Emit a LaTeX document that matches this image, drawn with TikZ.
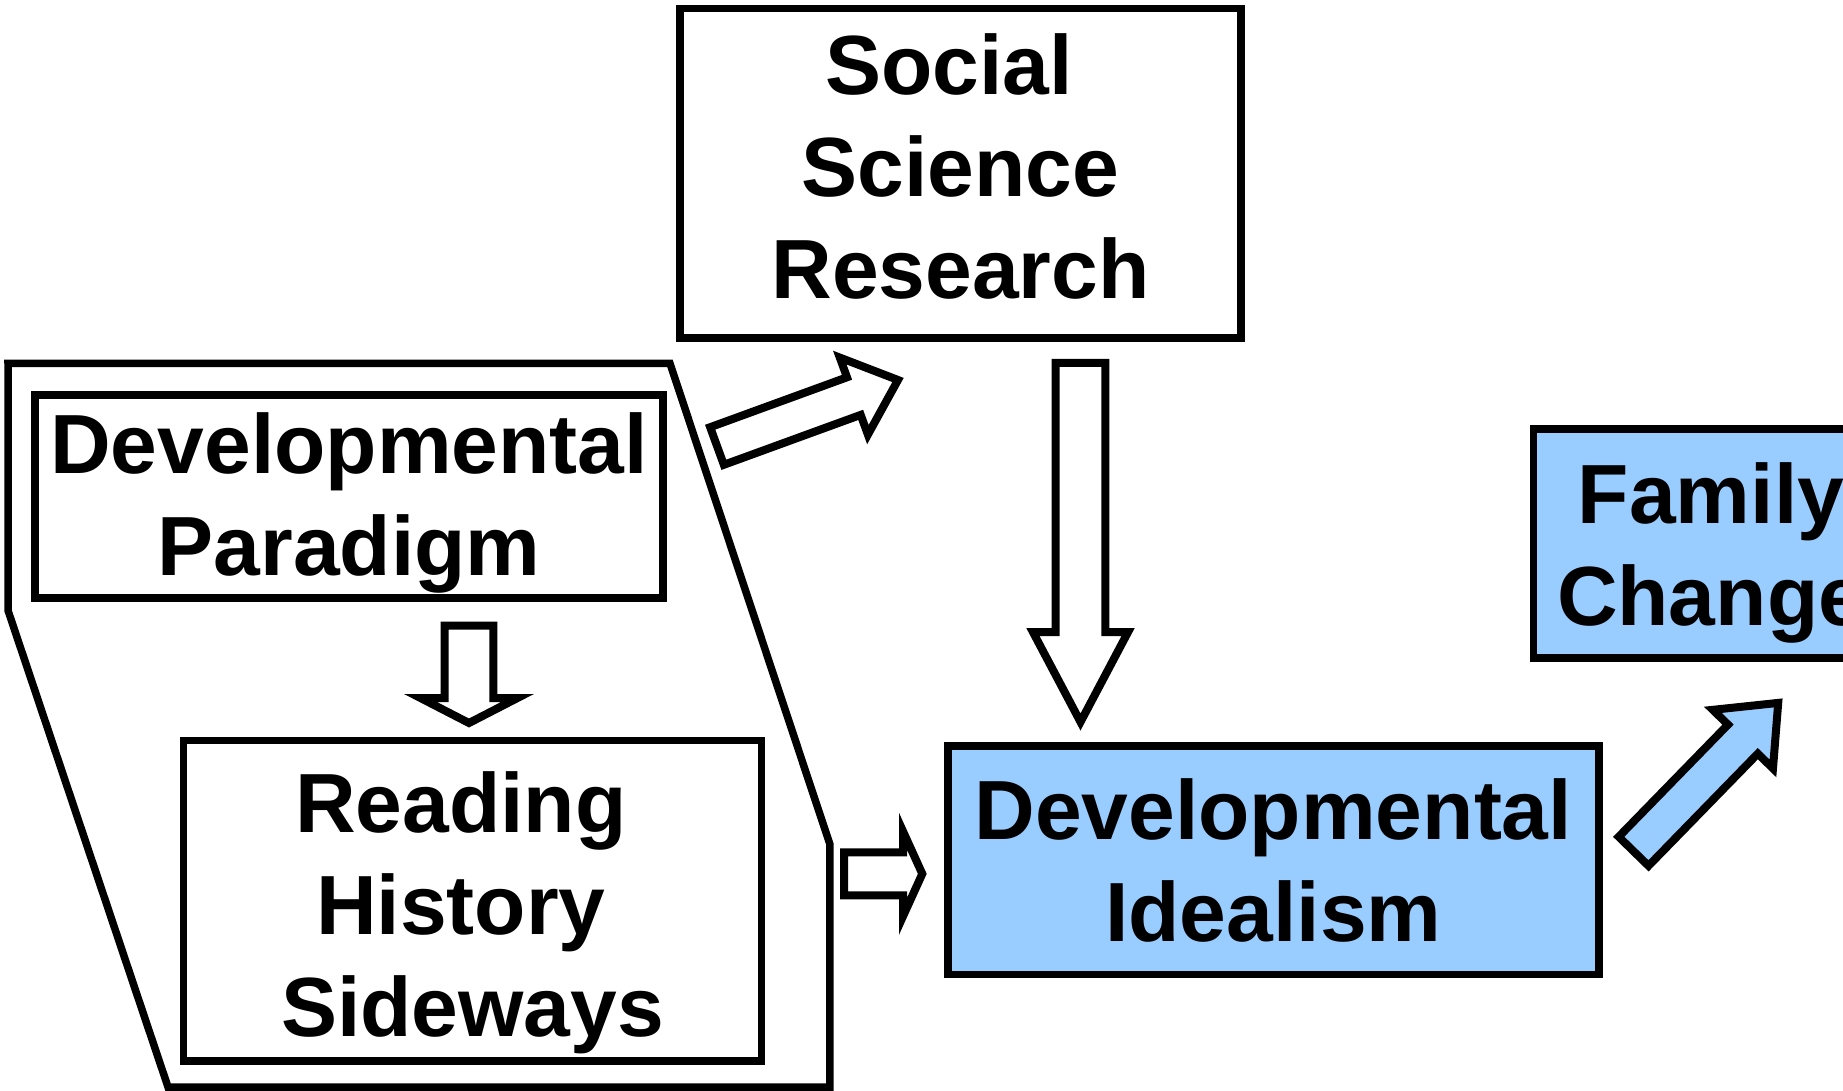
\documentclass[tikz,border=0pt]{standalone}
\usepackage{fontspec}
\setmainfont{Liberation Sans}
\usetikzlibrary{calc}
\definecolor{idealblue}{RGB}{153,204,255}
\tikzset{>=latex}
\tikzset{
  box/.style={draw,line width=3.75pt,align=center,inner sep=0pt,
    font=\bfseries\fontsize{42}{51}\selectfont},
  bluebox/.style={box,fill=idealblue},
  blockarr/.style={draw,line width=4pt,fill=white,line join=miter},
}
% block arrow: [opts]{tail}{tip}{shaft half width}{head half width}{head length}
\newcommand{\blockarrow}[6][]{%
  \coordinate (hb) at ($(#3)!#6!(#2)$);
  \draw[blockarr,#1] ($(#2)!#4!90:(#3)$) -- ($(hb)!#4!90:(#3)$) -- ($(hb)!#5!90:(#3)$)
    -- (#3) -- ($(hb)!#5!-90:(#3)$) -- ($(hb)!#4!-90:(#3)$) -- ($(#2)!#4!-90:(#3)$) -- cycle;}

\begin{document}
\begin{tikzpicture}[x=0.5pt,y=-0.5pt]
  \useasboundingbox (0,0) rectangle (1843,1091);
  \clip (0,0) rectangle (1843,1091);

  % Group around the paradigm
  \draw[line width=3.75pt,line join=miter] (8,363.5) -- (670,363.5) -- (829.8,844) -- (829.8,1087)
    -- (168,1087) -- (8.2,611) -- cycle;

  % Boxes
  \node[box,minimum width=314pt,minimum height=101.5pt] (dp) at (349,496.5)
    {\rule{0pt}{37pt}Developmental\\Paradigm};
  \node[box,minimum width=289.2pt,minimum height=160.2pt] (rhs) at (472.5,900.9)
    {\rule{0pt}{42pt}Reading\hspace*{.278em}\mbox{}\\History\hspace*{.278em}\mbox{}\\Sideways};
  \node[box,minimum width=280.5pt,minimum height=164.75pt] (ssr) at (960.5,173.2)
    {Social\hspace*{.278em}\mbox{}\\Science\\Research\rule[-7pt]{0pt}{7pt}};
  \node[bluebox,minimum width=325.5pt,minimum height=114.3pt] (di) at (1273.3,860.1)
    {Developmental\\Idealism};
  \node[bluebox,minimum width=177.7pt,minimum height=114.35pt] (fc) at (1711,543.4)
    {\rule{0pt}{39.5pt}Family\\Change};

  % Arrow ends
  \coordinate (dp-out) at (469,625.7);
  \coordinate (rhs-in) at (469,723);
  \coordinate (grp-up) at (717,446);
  \coordinate (ssr-in) at (898,380);
  \coordinate (ssr-out) at (1080.5,363);
  \coordinate (di-top) at (1080.5,722);
  \coordinate (grp-right) at (844,873.8);
  \coordinate (di-in) at (922.3,873.8);
  \coordinate (di-out) at (1633.6,851.3);
  \coordinate (fc-in) at (1778.2,702.9);

  % Arrows
  \blockarrow{dp-out}{rhs-in}{12.15pt}{24.25pt}{12.5pt}
  \blockarrow{grp-up}{ssr-in}{10pt}{20.5pt}{23.5pt}
  \blockarrow{ssr-out}{di-top}{12.4pt}{23.8pt}{45pt}
  \blockarrow{grp-right}{di-in}{10.75pt}{21.25pt}{9.65pt}
  \blockarrow[fill=idealblue]{di-out}{fc-in}{10.4pt}{21pt}{25.3pt}

\end{tikzpicture}
\end{document}
